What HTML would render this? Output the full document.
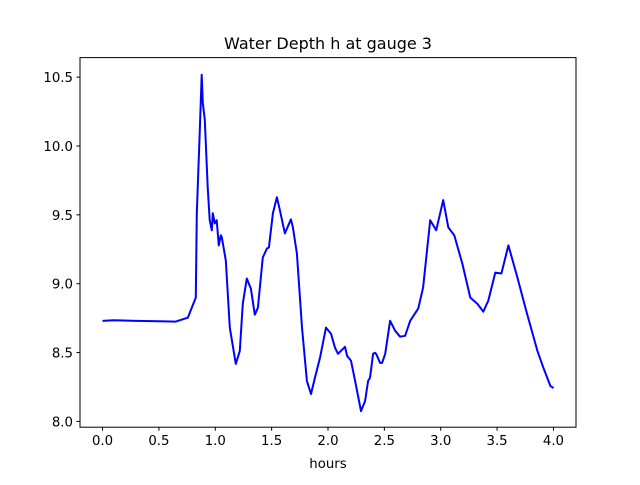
<!DOCTYPE html>
<html><head><meta charset="utf-8"><style>
body{margin:0;background:#fff;font-family:"Liberation Sans","DejaVu Sans",sans-serif}
svg text{font-family:"DejaVu Sans","Liberation Sans",sans-serif;font-size:13.3px;fill:#000}
</style></head><body>
<svg id="c" width="640" height="480" xmlns="http://www.w3.org/2000/svg">
<rect width="640" height="480" fill="#fff"/>
<text x="328" y="49" text-anchor="middle" style="font-size:16px">Water Depth h at gauge 3</text>
<text x="328" y="468" text-anchor="middle">hours</text>
<g id="ticks"></g>
<polyline id="line" fill="none" stroke="#0000ff" stroke-width="2" stroke-linejoin="round"/>
<rect x="80" y="57.6" width="496" height="369.6" fill="none" stroke="#000" stroke-width="1"/>
</svg>
<script>
const hours=[0,0.1,0.3,0.5,0.65,0.756,0.827,0.836,0.862,0.880,0.889,0.907,0.933,0.951,0.969,0.978,0.996,1.013,1.031,1.049,1.058,1.093,1.129,1.182,1.218,1.244,1.280,1.316,1.351,1.378,1.422,1.458,1.476,1.511,1.547,1.573,1.618,1.644,1.671,1.689,1.724,1.769,1.813,1.849,1.884,1.929,1.982,2.027,2.062,2.089,2.124,2.151,2.169,2.204,2.240,2.293,2.329,2.356,2.373,2.400,2.418,2.427,2.462,2.480,2.507,2.551,2.596,2.640,2.684,2.729,2.800,2.844,2.907,2.960,3.022,3.067,3.120,3.191,3.262,3.324,3.378,3.422,3.484,3.538,3.600,3.680,3.751,3.858,3.911,3.973,4.0];
const depth=[8.73,8.735,8.73,8.727,8.725,8.753,8.899,9.511,10.094,10.517,10.313,10.189,9.701,9.461,9.388,9.511,9.438,9.461,9.278,9.351,9.337,9.169,8.681,8.418,8.512,8.855,9.038,8.964,8.775,8.826,9.190,9.256,9.263,9.511,9.628,9.533,9.365,9.416,9.467,9.409,9.219,8.681,8.294,8.199,8.316,8.462,8.681,8.637,8.535,8.491,8.520,8.542,8.476,8.440,8.294,8.075,8.148,8.294,8.316,8.491,8.498,8.491,8.425,8.425,8.491,8.731,8.658,8.615,8.622,8.731,8.819,8.972,9.461,9.388,9.607,9.409,9.351,9.147,8.899,8.855,8.797,8.877,9.081,9.074,9.278,9.045,8.826,8.512,8.389,8.257,8.243];
const xTicks=[0,0.5,1.0,1.5,2.0,2.5,3.0,3.5,4.0];
const yTicks=[8.0,8.5,9.0,9.5,10.0,10.5];
const L=80,R=576,T=57.6,B=427.2;
const xmin=-0.2,xmax=4.2,ymin=7.958,ymax=10.642;
const X=v=>L+(v-xmin)/(xmax-xmin)*(R-L);
const Y=v=>B-(v-ymin)/(ymax-ymin)*(B-T);
const ns="http://www.w3.org/2000/svg",g=document.getElementById('ticks');
xTicks.forEach(v=>{
 const l=document.createElementNS(ns,'line');
 
 
 l.setAttribute('x1',X(v));l.setAttribute('x2',X(v));l.setAttribute('y1',B);l.setAttribute('y2',B+3.5);l.setAttribute('stroke','#000');g.appendChild(l);
 const t=document.createElementNS(ns,'text');
 
 
 t.setAttribute('x',X(v));t.setAttribute('y',B+18);t.setAttribute('text-anchor','middle');t.textContent=v.toFixed(1);g.appendChild(t);
});
yTicks.forEach(v=>{
 const l=document.createElementNS(ns,'line');
 
 
 l.setAttribute('x1',L-3.5);l.setAttribute('x2',L);l.setAttribute('y1',Y(v));l.setAttribute('y2',Y(v));l.setAttribute('stroke','#000');g.appendChild(l);
 const t=document.createElementNS(ns,'text');
 
 
 t.setAttribute('x',L-7);t.setAttribute('y',Y(v)+5);t.setAttribute('text-anchor','end');t.textContent=v.toFixed(1);g.appendChild(t);
});
document.getElementById('line').setAttribute('points',hours.map((h,i)=>X(h).toFixed(1)+','+Y(depth[i]).toFixed(1)).join(' '));
</script>
</body></html>
